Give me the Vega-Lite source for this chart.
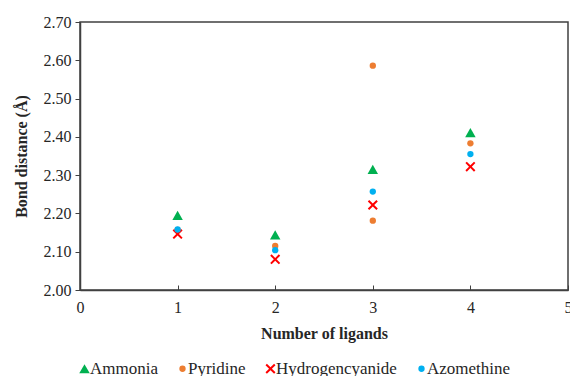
{
  "$schema": "https://vega.github.io/schema/vega-lite/v6.json",
  "width": 488,
  "height": 268,
  "autosize": {"type": "none"},
  "padding": {"left": 80, "top": 22, "right": 2, "bottom": 86},
  "background": "white",
  "config": {
    "font": "Liberation Serif",
    "view": {"stroke": "#404040", "strokeWidth": 1.5},
    "axis": {"domainColor": "#404040", "domainWidth": 1.5, "tickColor": "#404040", "labelColor": "#262626", "titleColor": "#262626", "grid": false},
    "legend": {"labelFont": "Liberation Serif"}
  },
  "data": {
    "values": [
      {"ligands": 1, "series": "Ammonia", "distance": 2.195},
      {"ligands": 2, "series": "Ammonia", "distance": 2.144},
      {"ligands": 3, "series": "Ammonia", "distance": 2.315},
      {"ligands": 4, "series": "Ammonia", "distance": 2.411},
      {"ligands": 1, "series": "Pyridine", "distance": 2.157},
      {"ligands": 2, "series": "Pyridine", "distance": 2.115},
      {"ligands": 3, "series": "Pyridine", "distance": 2.586},
      {"ligands": 3, "series": "Pyridine", "distance": 2.181},
      {"ligands": 4, "series": "Pyridine", "distance": 2.383},
      {"ligands": 1, "series": "Hydrogencyanide", "distance": 2.146},
      {"ligands": 2, "series": "Hydrogencyanide", "distance": 2.080},
      {"ligands": 3, "series": "Hydrogencyanide", "distance": 2.222},
      {"ligands": 4, "series": "Hydrogencyanide", "distance": 2.322},
      {"ligands": 1, "series": "Azomethine", "distance": 2.158},
      {"ligands": 2, "series": "Azomethine", "distance": 2.104},
      {"ligands": 3, "series": "Azomethine", "distance": 2.257},
      {"ligands": 4, "series": "Azomethine", "distance": 2.355}
    ]
  },
  "mark": {"type": "point", "filled": true, "opacity": 1},
  "encoding": {
    "x": {
      "field": "ligands", "type": "quantitative",
      "scale": {"domain": [0, 5], "nice": false},
      "axis": {"values": [0, 1, 2, 3, 4, 5], "format": "d", "tickSize": -5, "labelPadding": 14, "labelFont": "Liberation Serif", "labelFontSize": 16, "labelFlush": false, "title": "Number of ligands", "titleFont": "Liberation Serif", "titleFontSize": 16, "titleFontWeight": "bold", "titlePadding": 10}
    },
    "y": {
      "field": "distance", "type": "quantitative",
      "scale": {"domain": [2.0, 2.7], "nice": false, "zero": false},
      "axis": {"values": [2.0, 2.1, 2.2, 2.3, 2.4, 2.5, 2.6, 2.7], "format": ".2f", "tickSize": 5, "labelPadding": 4, "labelFont": "Liberation Serif", "labelFontSize": 16, "title": "Bond distance (Å)", "titleFont": "Liberation Serif", "titleFontSize": 16, "titleFontWeight": "bold", "titlePadding": 14}
    },
    "color": {
      "field": "series", "type": "nominal",
      "scale": {"domain": ["Ammonia", "Pyridine", "Hydrogencyanide", "Azomethine"], "range": ["#00B050", "#ED7D31", "#FF0000", "#00B0F0"]},
      "legend": {"orient": "none", "legendX": -4, "legendY": 338, "direction": "horizontal", "columns": 4, "title": null, "labelFont": "Liberation Serif", "labelFontSize": 17, "labelColor": "#262626", "labelOffset": -3, "columnPadding": 16, "symbolOpacity": 1}
    },
    "shape": {
      "field": "series", "type": "nominal",
      "scale": {"domain": ["Ammonia", "Pyridine", "Hydrogencyanide", "Azomethine"], "range": ["triangle-up", "circle", "M-1,-0.72L-0.72,-1L0,-0.28L0.72,-1L1,-0.72L0.28,0L1,0.72L0.72,1L0,0.28L-0.72,1L-1,0.72L-0.28,0Z", "circle"]}
    },
    "size": {
      "field": "series", "type": "nominal",
      "scale": {"type": "ordinal", "domain": ["Ammonia", "Pyridine", "Hydrogencyanide", "Azomethine"], "range": [110, 40, 100, 40]}
    }
  }
}
